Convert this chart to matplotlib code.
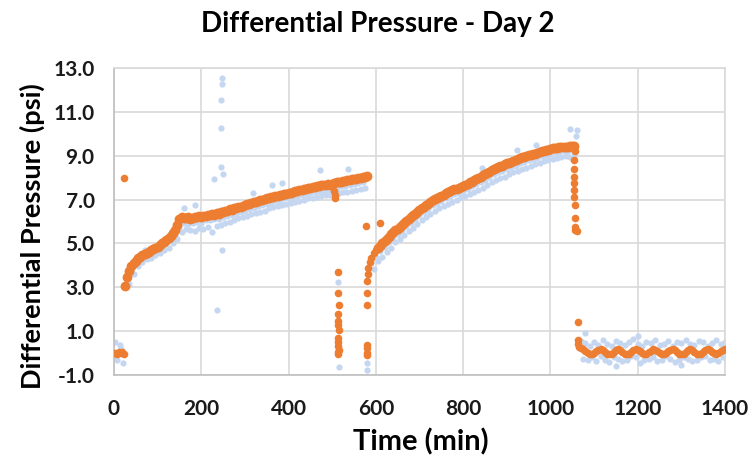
import numpy as np
import matplotlib
matplotlib.use("Agg")
import matplotlib.pyplot as plt

# ---- data (time in min, pressure in psi) ----
ORANGE = "#ED7D31"
BLUE = "#C5D6F0"

# orange: idle at start
start_t = [3, 7, 11, 15, 19, 22]
start_v = [0.02, -0.03, 0.04, 0.0, 0.03, -0.02]

# orange: first ramp, sampled every 5 min from 25 to 580
ramp1_t0, ramp1_dt = 25, 5
ramp1_v = [3.05, 3.45, 3.75, 3.95, 4.10, 4.20, 4.32, 4.40, 4.45, 4.52,
           4.55, 4.62, 4.68, 4.75, 4.78, 4.85, 4.92, 5.00, 5.08, 5.15,
           5.25, 5.35, 5.48, 5.62, 5.85, 6.10, 6.20, 6.18, 6.15, 6.20,
           6.12, 6.18, 6.22, 6.20, 6.25, 6.20, 6.27, 6.25, 6.30, 6.28,
           6.33, 6.30, 6.38, 6.35, 6.42, 6.45, 6.50, 6.48, 6.55, 6.53,
           6.60, 6.62, 6.65, 6.68, 6.70, 6.75, 6.78, 6.80, 6.85, 6.88,
           6.90, 6.92, 6.97, 7.00, 7.02, 7.05, 7.08, 7.10, 7.12, 7.15,
           7.18, 7.20, 7.22, 7.25, 7.27, 7.30, 7.32, 7.35, 7.37, 7.40,
           7.42, 7.45, 7.47, 7.50, 7.52, 7.55, 7.57, 7.58, 7.60, 7.62,
           7.65, 7.66, 7.68, 7.70, 7.68, 7.72, 7.75, 7.78, 7.80, 7.82,
           7.85, 7.86, 7.88, 7.90, 7.92, 7.93, 7.95, 7.97, 8.00, 8.02,
           8.05, 8.06]

# orange: isolated points, dips and the two drops
spot_t = [24, 504, 506, 507, 577, 609,
          514, 514, 515, 514, 513, 514, 515, 514, 513, 514, 515, 514, 513,
          579, 579, 579, 579, 579, 580,
          580, 581, 583, 586, 590, 595, 600]
spot_v = [8.0, 7.40, 7.20, 7.05, 5.80, 5.95,
          3.68, 2.72, 2.19, 1.80, 1.46, 1.28, 1.05, 0.67, 0.52, 0.30, 0.14, -0.04, 0.05,
          2.72, 2.19, 0.37, 0.23, -0.09, 0.0,
          3.30, 3.60, 3.90, 4.15, 4.35, 4.55, 4.68]

# orange: second ramp, every 5 min from 605 to 1055
ramp2_t0, ramp2_dt = 605, 5
ramp2_v = [4.80, 4.90, 5.00, 5.10, 5.18, 5.30, 5.42, 5.53, 5.60, 5.68,
           5.75, 5.85, 5.95, 6.02, 6.12, 6.20, 6.28, 6.36, 6.45, 6.52,
           6.60, 6.66, 6.74, 6.80, 6.90, 6.97, 7.02, 7.08, 7.12, 7.18,
           7.22, 7.28, 7.34, 7.38, 7.42, 7.46, 7.50, 7.55, 7.58, 7.62,
           7.67, 7.72, 7.78, 7.82, 7.90, 7.95, 8.00, 8.05, 8.10, 8.15,
           8.22, 8.28, 8.33, 8.38, 8.42, 8.48, 8.52, 8.55, 8.60, 8.65,
           8.68, 8.72, 8.76, 8.80, 8.85, 8.88, 8.92, 8.95, 8.98, 9.02,
           9.05, 9.08, 9.10, 9.14, 9.17, 9.20, 9.22, 9.25, 9.27, 9.30,
           9.33, 9.35, 9.37, 9.38, 9.40, 9.40, 9.42, 9.41, 9.43, 9.44,
           9.45]

# orange: shutdown drop near 1055 min
drop_t = [1056, 1055, 1055, 1055, 1055, 1055, 1055, 1056, 1056, 1056, 1057, 1060,
          1063, 1063, 1064]
drop_v = [9.20, 8.80, 8.40, 8.04, 7.75, 7.44, 7.13, 6.75, 6.14, 5.76, 5.60, 5.58,
          1.43, 0.60, 0.40]

# orange: idle after shutdown, every 5 min from 1065 to 1400
idle_t0, idle_dt = 1065, 5
idle_v = [0.28, 0.22, 0.18, 0.10, 0.02, -0.03, -0.05, 0.00, 0.08, 0.15,
          0.17, 0.12, 0.04, -0.03, -0.06, -0.02, 0.06, 0.14, 0.18, 0.14,
          0.06, -0.02, -0.06, -0.03, 0.05, 0.13, 0.18, 0.15, 0.08, 0.00,
          -0.05, -0.04, 0.03, 0.11, 0.17, 0.16, 0.10, 0.02, -0.04, -0.05,
          0.01, 0.09, 0.16, 0.18, 0.12, 0.04, -0.03, -0.06, -0.02, 0.06,
          0.14, 0.18, 0.14, 0.06, -0.02, -0.06, -0.03, 0.05, 0.13, 0.18,
          0.15, 0.07, 0.00, -0.04, 0.00, 0.08, 0.15, 0.17]

# blue (raw readings): two readings per 10 min, the second logged 5 min later
blue1_t0, blue1_dt = 30, 10
blue1_a = [3.30, 3.80, 4.35, 4.30, 4.70, 4.50, 4.55, 4.70, 4.85, 5.00,
           5.15, 5.40, 5.75, 5.95, 5.90, 5.95, 6.00, 5.95, 6.05, 6.05,
           6.10, 6.10, 6.20, 6.25, 6.30, 6.35, 6.45, 6.50, 6.55, 6.60,
           6.70, 6.75, 6.80, 6.85, 6.95, 6.95, 7.05, 7.05, 7.10, 7.15,
           7.20, 7.25, 7.30, 7.35, 7.40, 7.40, 7.45, 7.50, 7.55, 7.60,
           7.60, 7.65, 7.70, 7.75, 7.80]
blue1_b = [3.15, 3.60, 3.95, 4.15, 4.30, 4.35, 4.45, 4.55, 4.70, 4.80,
           5.00, 5.20, 5.50, 5.65, 5.60, 5.55, 5.70, 5.65, 5.75, 5.50,
           5.80, 5.85, 5.95, 6.00, 6.05, 6.15, 6.20, 6.25, 6.35, 6.40,
           6.45, 6.50, 6.60, 6.65, 6.70, 6.75, 6.80, 6.85, 6.90, 6.95,
           7.00, 7.05, 7.05, 7.10, 7.15, 7.20, 7.20, 7.25, 7.30, 7.35,
           7.35, 7.40, 7.45, 7.50, 7.55]

blue2_t0, blue2_dt = 590, 10
blue2_a = [4.10, 4.40, 4.65, 4.85, 5.05, 5.30, 5.45, 5.60, 5.80, 5.95,
           6.10, 6.30, 6.45, 6.55, 6.75, 6.85, 6.95, 7.05, 7.15, 7.25,
           7.30, 7.40, 7.50, 7.60, 7.70, 7.80, 7.90, 8.05, 8.15, 8.25,
           8.30, 8.40, 8.50, 8.55, 8.65, 8.70, 8.80, 8.85, 8.90, 9.00,
           9.00, 9.10, 9.15, 9.15, 9.20, 9.20, 9.25]
blue2_b = [3.85, 4.20, 4.40, 4.60, 4.80, 5.05, 5.20, 5.40, 5.55, 5.70,
           5.90, 6.05, 6.20, 6.35, 6.50, 6.60, 6.70, 6.80, 6.90, 7.00,
           7.10, 7.15, 7.25, 7.35, 7.45, 7.55, 7.65, 7.80, 7.90, 8.00,
           8.05, 8.15, 8.25, 8.30, 8.40, 8.45, 8.55, 8.60, 8.65, 8.75,
           8.80, 8.85, 8.90, 8.95, 9.00, 8.95, 9.00]

blue3_t0, blue3_dt = 1070, 10
blue3_a = [0.55, 0.45, 0.30, 0.50, 0.35, 0.60, 0.40, 0.30, 0.55, 0.45,
           0.35, 0.50, 0.65, 0.40, 0.30, 0.50, 0.45, 0.60, 0.35, 0.40,
           0.55, 0.30, 0.50, 0.45, 0.60, 0.40, 0.35, 0.55, 0.50, 0.30,
           0.45, 0.60, 0.40, 0.50]
blue3_b = [-0.25, -0.30, -0.20, -0.35, -0.15, -0.30, -0.40, -0.20, -0.25, -0.35,
           -0.30, -0.15, -0.20, -0.45, -0.30, -0.25, -0.20, -0.35, -0.30, -0.15,
           -0.25, -0.40, -0.30, -0.20, -0.25, -0.35, -0.30, -0.20, -0.15, -0.30,
           -0.25, -0.35, -0.20, -0.30]

# blue: start idle and scattered outliers
blue_x_t = [2, 8, 14, 20, 5, 17,
            247, 247, 246, 246, 245, 228, 250, 235, 248, 185, 160,
            319, 361, 386, 472, 537,
            514, 515, 579, 579, 1058, 1045, 1060, 923, 968, 843,
            1080, 1150, 1200, 1300]
blue_x_v = [0.50, -0.30, 0.35, -0.45, -0.15, 0.20,
            12.56, 12.26, 11.54, 10.28, 8.47, 7.92, 8.17, 1.96, 4.70, 6.75, 6.60,
            7.30, 7.66, 7.77, 8.35, 8.38,
            3.25, -0.62, -0.77, -0.45, 9.90, 10.22, 10.17, 9.26, 9.49, 8.42,
            0.90, -0.60, 0.80, -0.55]


def seq(t0, dt, vals):
    return t0 + dt * np.arange(len(vals))


fig = plt.figure(figsize=(7.53, 4.62), dpi=100)
ax = fig.add_axes([114 / 753, 1 - 375 / 462, 611 / 753, 307 / 462])

FONT = "Lato"
blue_kw = dict(s=20, color=BLUE, linewidths=0, zorder=2)
band_kw = dict(s=50, color=ORANGE, linewidths=0, zorder=3)
dot_kw = dict(s=30, color=ORANGE, linewidths=0, zorder=3)

for t0, dt, a, b in [(blue1_t0, blue1_dt, blue1_a, blue1_b),
                     (blue2_t0, blue2_dt, blue2_a, blue2_b),
                     (blue3_t0, blue3_dt, blue3_a, blue3_b)]:
    ax.scatter(seq(t0, dt, a), a, **blue_kw)
    ax.scatter(seq(t0 + dt / 2, dt, b), b, **blue_kw)
ax.scatter(blue_x_t, blue_x_v, **blue_kw)

ax.scatter(start_t, start_v, **dot_kw)
ax.scatter(seq(ramp1_t0, ramp1_dt, ramp1_v), ramp1_v, **band_kw)
ax.scatter(spot_t, spot_v, **dot_kw)
ax.scatter(seq(ramp2_t0, ramp2_dt, ramp2_v), ramp2_v, **band_kw)
ax.scatter(drop_t, drop_v, **dot_kw)
ax.scatter(seq(idle_t0, idle_dt, idle_v), idle_v, **dot_kw)

ax.set_xlim(0, 1400)
ax.set_ylim(-1, 13)
ax.set_xticks(np.arange(0, 1401, 200))
ax.set_yticks(np.arange(-1, 13.1, 2))
ax.set_yticklabels([f"{v:.1f}" for v in np.arange(-1, 13.1, 2)])
ax.grid(True, color="#D9D9D9", linewidth=1.2, zorder=0)
ax.set_axisbelow(True)
for side, sp in ax.spines.items():
    sp.set_color("#BFBFBF" if side in ("left", "bottom") else "#D9D9D9")
    sp.set_linewidth(1.2)
ax.tick_params(length=0)
ax.tick_params(axis="y", pad=14)
ax.tick_params(axis="x", pad=17)
for lab in ax.get_xticklabels() + ax.get_yticklabels():
    lab.set_fontfamily(FONT)
    lab.set_fontweight("bold")
    lab.set_fontsize(15)
    lab.set_color("#1a1a1a")

fig.text(0.502, 1 - 24 / 462, "Differential Pressure - Day 2", ha="center", va="center",
         fontsize=20, fontweight="bold", family=FONT)
fig.text(32 / 753, 1 - 236 / 462, "Differential Pressure (psi)", ha="center", va="center",
         rotation=90, fontsize=19.5, fontweight="bold", family=FONT)
fig.text(421 / 753, 1 - 442 / 462, "Time (min)", ha="center", va="center",
         fontsize=21, fontweight="bold", family=FONT)

fig.savefig("out.png", dpi=100)
